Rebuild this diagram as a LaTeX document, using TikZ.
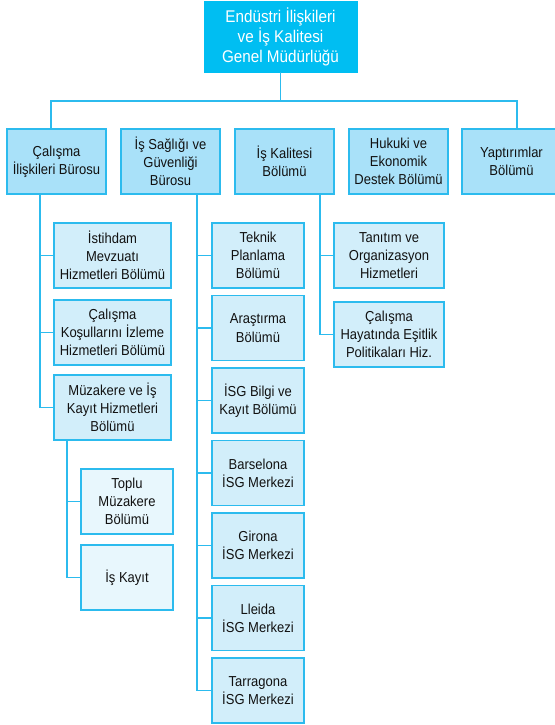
\documentclass[tikz,border=0pt]{standalone}
\usepackage{fontspec}
\setmainfont{Liberation Sans}[FakeStretch=0.9]
\usetikzlibrary{positioning}
\definecolor{topblue}{HTML}{00BEF2}
\definecolor{linkblue}{HTML}{2CBBEE}
\definecolor{unitfill}{HTML}{A9E1F9}
\definecolor{subfill}{HTML}{D2EEFA}
\definecolor{leaffill}{HTML}{E8F7FD}
\definecolor{ink}{HTML}{111111}

\begin{document}
\begin{tikzpicture}[x=1bp, y=-1bp,
      every node/.style={font=\fontsize{14.5}{18.3}\selectfont, align=center, text=ink, inner sep=1bp, outer sep=0pt},
      headbox/.style={fill=topblue, draw=topblue, text=white, font=\fontsize{17}{20}\selectfont, minimum width=153bp, minimum height=71bp},
      unitbox/.style={draw=linkblue, line width=1.2bp, fill=unitfill, minimum width=99bp, minimum height=65bp},
      subbox/.style={draw=linkblue, line width=1.2bp, fill=subfill, minimum height=65bp},
      leafbox/.style={subbox, fill=leaffill, minimum width=92bp},
      link/.style={draw=linkblue, line width=1.5bp}]
    \useasboundingbox (0,0) rectangle (555,725);
    % genel mudurluk ve birimler
    \node[headbox] (gm) at (280.5,36.5) {Endüstri İlişkileri\\ve İş Kalitesi\\Genel Müdürlüğü};
    \node[unitbox] (cib) at (56.5,161.5) {Çalışma\\İlişkileri Bürosu};
    \node[unitbox, right=15bp of cib] (isg) {İş Sağlığı ve\\Güvenliği\\Bürosu};
    \node[unitbox, right=15bp of isg] (ikb) {İş Kalitesi\\Bölümü};
    \node[unitbox, right=15bp of ikb] (hed) {Hukuki ve\\Ekonomik\\Destek Bölümü};
    \node[unitbox, right=14bp of hed] (yap) {Yaptırımlar\\Bölümü};
    % calisma iliskileri burosu
    \node[subbox, minimum width=117bp] (ist) at (112.5,255.5) {İstihdam\\Mevzuatı\\Hizmetleri Bölümü};
    \node[subbox, minimum width=117bp, below=12bp of ist] (ckb) {Çalışma\\Koşullarını İzleme\\Hizmetleri Bölümü};
    \node[subbox, minimum width=117bp, below=10bp of ckb] (mkh) {Müzakere ve İş\\Kayıt Hizmetleri\\Bölümü};
    \node[leafbox] (tmb) at (127,501.5) {Toplu\\Müzakere\\Bölümü};
    \node[leafbox, below=11bp of tmb] (isk) {İş Kayıt};
    % is sagligi ve guvenligi burosu
    \node[subbox, minimum width=92bp] (tpb) at (258,255.5) {Teknik\\Planlama\\Bölümü};
    \node[subbox, minimum width=92bp, below=7.5bp of tpb] (arb) {Araştırma\\Bölümü};
    \node[subbox, minimum width=92bp, below=7.5bp of arb] (ibk) {İSG Bilgi ve\\Kayıt Bölümü};
    \node[subbox, minimum width=92bp, below=7.5bp of ibk] (bar) {Barselona\\İSG Merkezi};
    \node[subbox, minimum width=92bp, below=7.5bp of bar] (gir) {Girona\\İSG Merkezi};
    \node[subbox, minimum width=92bp, below=7.5bp of gir] (lle) {Lleida\\İSG Merkezi};
    \node[subbox, minimum width=92bp, below=7.5bp of lle] (tar) {Tarragona\\İSG Merkezi};
    % is kalitesi bolumu
    \node[subbox, minimum width=110bp] (tos) at (389,255.5) {Tanıtım ve\\Organizasyon\\Hizmetleri};
    \node[subbox, minimum width=110bp, below=14bp of tos] (che) {Çalışma\\Hayatında Eşitlik\\Politikaları Hiz.};
    % baglantilar
    \coordinate (busL) at (51,101);
    \coordinate (busR) at (517,101);
    \coordinate (trA) at (40,0);
    \coordinate (trB) at (67,0);
    \coordinate (trC) at (197,0);
    \coordinate (trD) at (320,0);
    \draw[link] (gm.south) -- (gm.south |- busL);
    \draw[link] (busL |- cib.north) -- (busL) -- (busR) -- (busR |- yap.north);
    \draw[link] (trA |- cib.south) |- (ist.west);
    \draw[link] (trA |- cib.south) |- (ckb.west);
    \draw[link] (trA |- cib.south) |- (mkh.west);
    \draw[link] (trB |- mkh.south) |- (tmb.west);
    \draw[link] (trB |- mkh.south) |- (isk.west);
    \draw[link] (trC |- isg.south) |- (tpb.west);
    \draw[link] (trC |- isg.south) |- (arb.west);
    \draw[link] (trC |- isg.south) |- (ibk.west);
    \draw[link] (trC |- isg.south) |- (bar.west);
    \draw[link] (trC |- isg.south) |- (gir.west);
    \draw[link] (trC |- isg.south) |- (lle.west);
    \draw[link] (trC |- isg.south) |- (tar.west);
    \draw[link] (trD |- ikb.south) |- (tos.west);
    \draw[link] (trD |- ikb.south) |- (che.west);
  \end{tikzpicture}
\end{document}
